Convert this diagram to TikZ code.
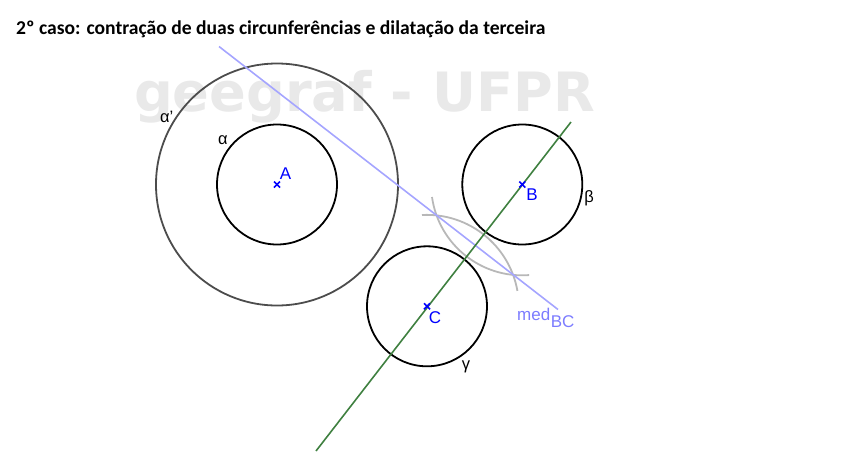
\documentclass[tikz,border=0pt]{standalone}
\usepackage{fontspec}
\setmainfont{Liberation Sans}
\newfontfamily\titlefont{Carlito}
\newfontfamily\markfont{DejaVu Sans}
\definecolor{medblue}{HTML}{A5A5FF}
\definecolor{medlabel}{HTML}{7C7CFF}
\definecolor{darkgreen}{HTML}{3F8040}
\definecolor{arcgray}{HTML}{B8B8B8}
\definecolor{marksgray}{HTML}{E9E9E9}
\definecolor{ptblue}{HTML}{0000FF}
\tikzset{
  x=1pt,y=-1pt,
  circ/.style={draw=black,line width=1.8pt,circle,minimum size=120pt,inner sep=0pt,outer sep=0pt},
  bigcirc/.style={draw=black!70,line width=1.8pt,circle,minimum size=242pt,inner sep=0pt,outer sep=0pt},
  lab/.style={inner sep=0pt,font=\fontsize{16.5}{16.5}\selectfont,text=black},
  ptlab/.style={inner sep=0pt,font=\fontsize{17}{17}\selectfont,text=ptblue},
  cross/.style={draw=ptblue,line width=1.6pt},
  arcline/.style={draw=arcgray,line width=1.8pt},
}
\begin{document}
\begin{tikzpicture}
\useasboundingbox (0,0) rectangle (863,456);
\node[inner sep=0pt,text=marksgray,font=\markfont\bfseries\fontsize{54.2}{55}\selectfont] (wm) at (364.5,97) {geegraf - UFPR};
\node[inner sep=0pt,anchor=west,font=\titlefont\bfseries\fontsize{19.6}{20}\selectfont] (title) at (16,29) {2º caso: contração de duas circunferências e dilatação da terceira};
\node[bigcirc] (ap) at (277,184.5) {};
\node[circ] (a) at (277,184.5) {};
\node[circ] (b) at (522.3,184.5) {};
\node[circ] (c) at (427,306.3) {};
\draw[arcline] (422,215) arc[start angle=-93,end angle=-10,radius=92];
\draw[arcline] (432,197) arc[start angle=-188,end angle=-274.4,radius=91];
\coordinate (m1) at (219,46.5);
\coordinate (m2) at (558,309.5);
\coordinate (g1) at (571,122);
\coordinate (g2) at (316,451);
\draw[medblue,line width=1.6pt] (m1) -- (m2);
\draw[darkgreen,line width=1.6pt] (g1) -- (g2);
\foreach \p in {a,b,c}{
  \draw[cross] ([shift={(-3,-3)}]\p.center) -- ([shift={(3,3)}]\p.center);
  \draw[cross] ([shift={(-3,3)}]\p.center) -- ([shift={(3,-3)}]\p.center);
}
\node[ptlab] (la) at (285.5,174) {A};
\node[ptlab] (lb) at (532,195) {B};
\node[ptlab] (lc) at (435,317.5) {C};
\node[lab] (lalpha) at (223,140.5) {α};
\node[lab,anchor=west] (lalphap) at (160,117) {α'};
\node[lab] (lbeta) at (589,198.5) {β};
\node[lab] (lgamma) at (466,367) {γ};
\node[inner sep=0pt,anchor=base west,text=medlabel,font=\fontsize{17}{17}\selectfont] (lmed) at (517,320.5) {med\hspace{0.6pt}\raisebox{-7pt}{BC}};
\end{tikzpicture}
\end{document}
